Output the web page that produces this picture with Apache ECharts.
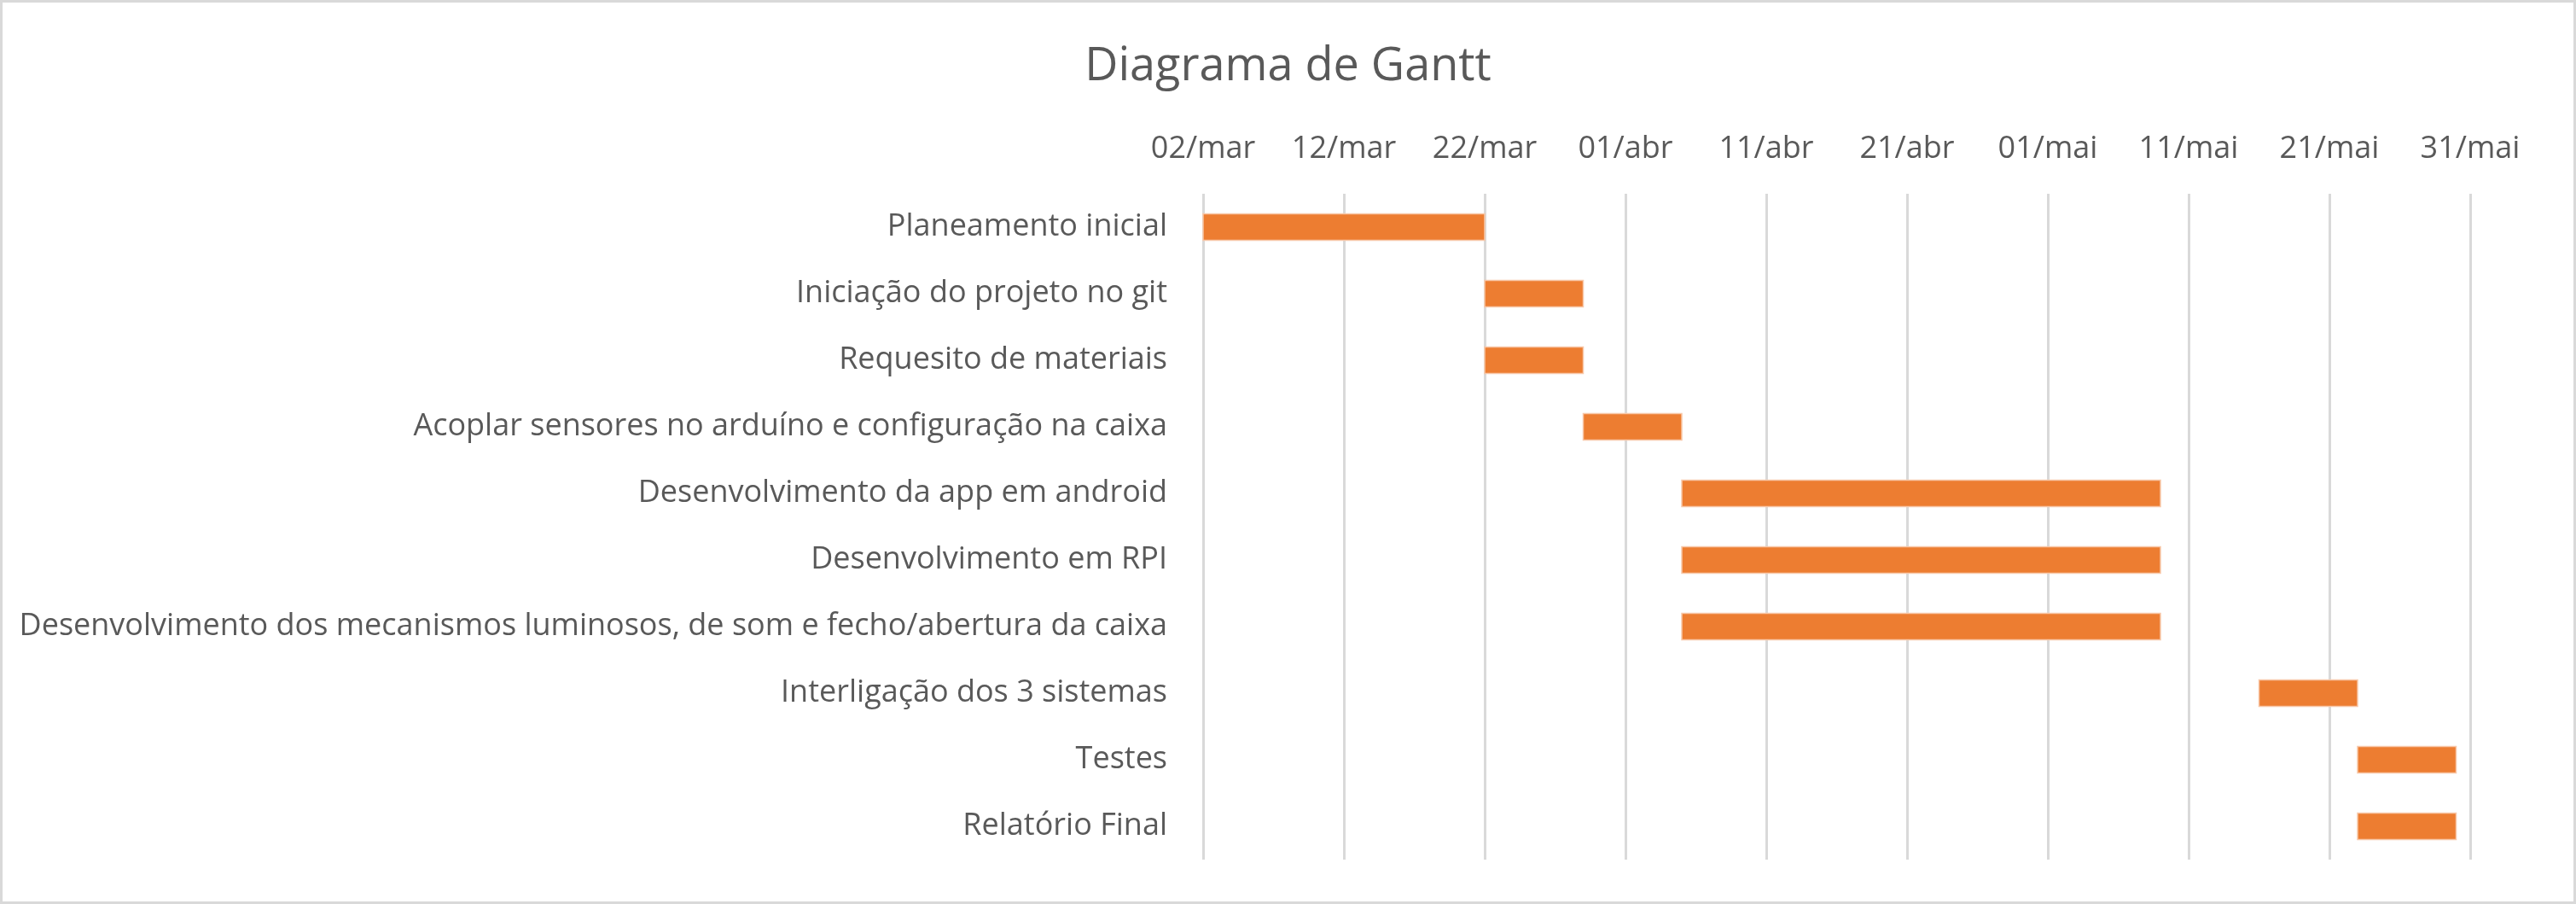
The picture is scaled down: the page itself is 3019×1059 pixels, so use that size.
<!DOCTYPE html>
<html>
<head>
<meta charset="utf-8">
<script src="https://cdn.jsdelivr.net/npm/echarts@6/dist/echarts.min.js"></script>
<style>
html,body{margin:0;padding:0;background:#fff;}
#chart{width:3019px;height:1059px;}
</style>
</head>
<body>
<div id="chart"></div>
<script>
// ---- data ----
const titleText = 'Diagrama de Gantt';
const tasks = [
  'Planeamento inicial',
  'Iniciação do projeto no git',
  'Requesito de materiais',
  'Acoplar sensores no arduíno e configuração na caixa',
  'Desenvolvimento da app em android',
  'Desenvolvimento em RPI',
  'Desenvolvimento dos mecanismos luminosos, de som e fecho/abertura da caixa',
  'Interligação dos 3 sistemas',
  'Testes',
  'Relatório Final'
];
const startDates = ['2020-03-02','2020-03-22','2020-03-22','2020-03-29','2020-04-05','2020-04-05','2020-04-05','2020-05-16','2020-05-23','2020-05-23'];
const endDates   = ['2020-03-22','2020-03-29','2020-03-29','2020-04-05','2020-05-09','2020-05-09','2020-05-09','2020-05-23','2020-05-30','2020-05-30'];
const axisStart = '2020-03-02';
const axisEnd = '2020-05-31';
const tickStepDays = 10;
const monthNames = ['jan','fev','mar','abr','mai','jun','jul','ago','set','out','nov','dez'];

// ---- helpers ----
function ts(s){ const p = s.split('-').map(Number); return Date.UTC(p[0], p[1]-1, p[2]); }
const DAY = 86400000;
const fmt = v => { const d = new Date(v); const dd = d.getUTCDate(); return (dd<10?'0':'')+dd+'/'+monthNames[d.getUTCMonth()]; };
const data = tasks.map((t,i)=>[i, ts(startDates[i]), ts(endDates[i])]);

const FONT = "'Open Sans', 'Noto Sans', sans-serif";
const chart = echarts.init(document.getElementById('chart'), null, {renderer:'canvas'});
chart.setOption({
  animation:false,
  backgroundColor:'#ffffff',
  title:{
    text:titleText, left:'center', top:47,
    textStyle:{fontFamily:FONT, fontSize:54, fontWeight:'normal', color:'#595959'}
  },
  graphic:[{
    type:'rect', silent:true, z:-1,
    shape:{x:1.5, y:1.5, width:3016, height:1056},
    style:{fill:'none', stroke:'#d9d9d9', lineWidth:3}
  }],
  grid:{left:1410, right:124, top:227, bottom:52, containLabel:false},
  xAxis:{
    type:'value', position:'top',
    min:ts(axisStart), max:ts(axisEnd), interval:tickStepDays*DAY,
    axisLine:{show:false}, axisTick:{show:false},
    splitLine:{show:true, lineStyle:{color:'#d9d9d9', width:3}},
    axisLabel:{formatter:fmt, fontFamily:FONT, fontSize:36, color:'#595959', margin:34, showMaxLabel:true, showMinLabel:true}
  },
  yAxis:{
    type:'category', data:tasks, inverse:true,
    axisLine:{show:false}, axisTick:{show:false}, splitLine:{show:false},
    axisLabel:{fontFamily:FONT, fontSize:36, color:'#595959', margin:42}
  },
  series:[{
    type:'custom',
    encode:{x:[1,2], y:0},
    data:data,
    renderItem:function(params, api){
      const c = api.value(0);
      const p0 = api.coord([api.value(1), c]);
      const p1 = api.coord([api.value(2), c]);
      const h = api.size([0,1])[1]*0.4;
      return {
        type:'rect',
        shape:{x:p0[0], y:p0[1]-h/2, width:p1[0]-p0[0], height:h},
        style:{fill:'#ed7d31', stroke:'#f8c7a8', lineWidth:1.5}
      };
    }
  }]
});
</script>
</body>
</html>
